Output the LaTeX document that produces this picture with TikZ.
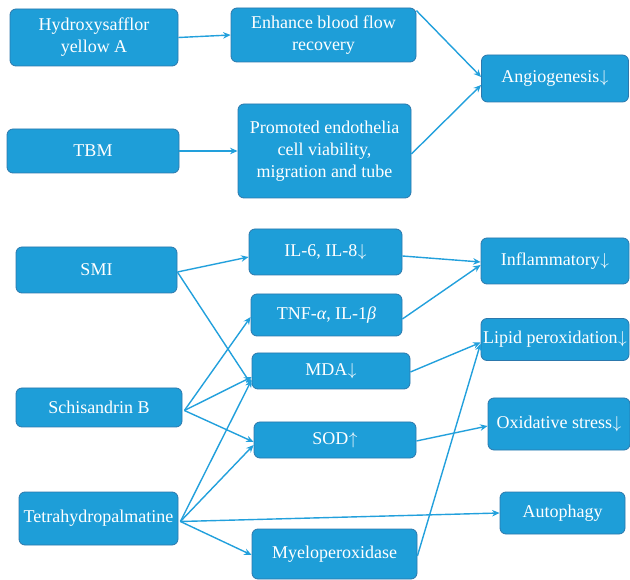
\documentclass[tikz,border=0pt]{standalone}
\usepackage{fontspec}
\setmainfont{Liberation Serif}
\usetikzlibrary{arrows.meta}
\definecolor{boxfill}{HTML}{1E9ED8}
\definecolor{boxline}{HTML}{2C78AC}
\definecolor{arrowc}{HTML}{22A0DC}
\newcommand{\dn}{\kern0.5pt$\downarrow$}
\newcommand{\upar}{\kern0.5pt$\uparrow$}
\begin{document}
\begin{tikzpicture}[x=1pt,y=-1pt,
  box/.style={draw=boxline, line width=0.8pt, fill=boxfill, rounded corners=6pt,
    text=white, align=center, inner sep=1pt,
    font=\fontsize{18}{22}\selectfont},
  conn/.style={draw=arrowc, line width=1.4pt, -{Stealth[length=7.5pt,width=6.5pt]}}]
\useasboundingbox (0,0) rectangle (630,580);
% nodes
\node[box, minimum width=168pt, minimum height=57pt] (hsya) at (94,37.5) {Hydroxysafflor\\yellow A};
\node[box, minimum width=185pt, minimum height=54pt] (enh) at (323.5,35) {Enhance blood flow\\recovery};
\node[box, minimum width=147pt, minimum height=47pt] (angio) at (555,78.5) {Angiogenesis\dn};
\node[box, minimum width=172pt, minimum height=44pt] (tbm) at (93,151) {TBM};
\node[box, minimum width=173pt, minimum height=94pt] (prom) at (324.5,151) {Promoted endothelia\\cell viability,\\migration and tube};
\node[box, minimum width=161pt, minimum height=46pt] (smi) at (96.5,270) {SMI};
\node[box, minimum width=153pt, minimum height=46pt] (il6) at (325.5,252) {IL-6, IL-8\dn};
\node[box, minimum width=148pt, minimum height=46pt] (infl) at (555,261) {Inflammatory\dn};
\node[box, minimum width=151pt, minimum height=42pt] (tnf) at (326.5,315) {TNF-\textit{α}, IL-1\textit{β}};
\node[box, minimum width=148pt, minimum height=42pt] (lipid) at (555,339.5) {Lipid peroxidation\dn};
\node[box, minimum width=158pt, minimum height=36pt] (mda) at (331,371) {MDA\dn};
\node[box, minimum width=166pt, minimum height=39pt] (schb) at (99,407.5) {Schisandrin B};
\node[box, minimum width=142pt, minimum height=52pt] (oxi) at (559,424) {Oxidative stress\dn};
\node[box, minimum width=162pt, minimum height=36pt] (sod) at (335,440) {SOD\upar};
\node[box, minimum width=159pt, minimum height=53pt] (thp) at (98.5,518.5) {Tetrahydropalmatine};
\node[box, minimum width=125pt, minimum height=42pt] (auto) at (562.5,513) {Autophagy};
\node[box, minimum width=165pt, minimum height=50pt] (mpo) at (334.5,554) {Myeloperoxidase};
% connectors
\draw[conn] (hsya.east) -- (enh.west);
\draw[conn] (tbm.east) -- (prom.west);
\draw[conn] ([yshift=-3pt]enh.north east) -- ([yshift=1.5pt]angio.west);
\draw[conn] ([yshift=-3pt]prom.east) -- ([yshift=-6.5pt]angio.west);
\draw[conn] ([yshift=-2pt]smi.east) -- ([yshift=-5pt]il6.west);
\draw[conn] ([yshift=-2pt]smi.east) -- ([yshift=-14pt]mda.west);
\draw[conn] ([yshift=-4pt]il6.east) -- ([yshift=-1pt]infl.west);
\draw[conn] ([yshift=-4pt]tnf.east) -- ([yshift=-4pt]infl.west);
\draw[conn] ([yshift=-1pt]mda.east) -- ([yshift=-3pt]lipid.west);
\draw[conn] ([yshift=-2pt]mpo.east) -- ([yshift=-4pt]lipid.west);
\draw[conn] ([yshift=-1pt]sod.east) -- ([yshift=-2pt]oxi.west);
\coordinate (sbout) at ([xshift=2pt,yshift=-3pt]schb.east);
\draw[conn] (sbout) -- ([yshift=-2pt]tnf.west);
\draw[conn] (sbout) -- ([yshift=-6pt]mda.west);
\draw[conn] (sbout) -- ([yshift=-2pt]sod.west);
\coordinate (thout) at ([xshift=2pt,yshift=-3pt]thp.east);
\draw[conn] (thout) -- ([yshift=-9pt]mda.west);
\draw[conn] (thout) -- ([yshift=-5pt]sod.west);
\draw[conn] (thout) -- (auto.west);
\draw[conn] (thout) -- ([yshift=-1pt]mpo.west);
\end{tikzpicture}
\end{document}
